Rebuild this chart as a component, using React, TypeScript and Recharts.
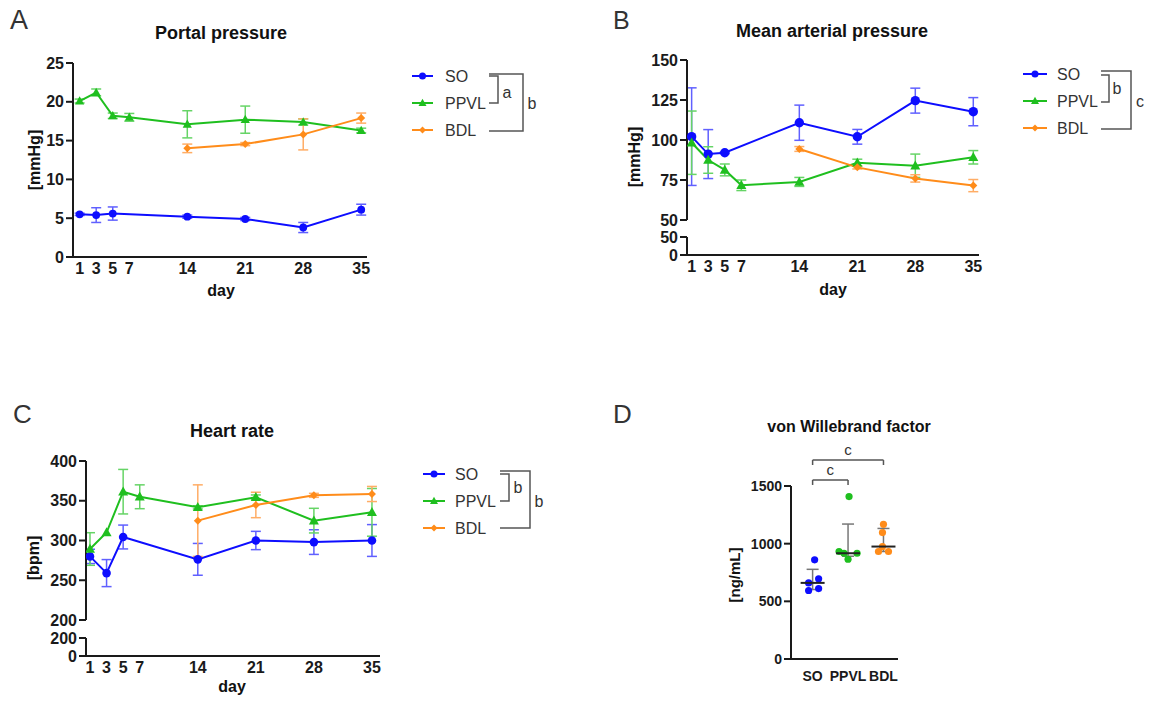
import React from 'react';
import { ComposedChart, Line, XAxis, YAxis, ErrorBar, Legend, Scatter, ReferenceLine } from 'recharts';

const FONT = '"Liberation Sans", Arial, Helvetica, sans-serif';
const AXIS = '#1a1a1a';
const TEXT = '#333333';
const BLUE = '#0d0dff';
const GREEN = '#1fbf1f';
const ORANGE = '#ff8c1a';
const BLUE_ERR = '#6060ff';
const GREEN_ERR = '#66d466';
const ORANGE_ERR = '#ffad66';

// ---------- shared ----------
const days = [1, 3, 5, 7, 14, 21, 28, 35];
const groups = ['SO', 'PPVL', 'BDL'];

// ---------- A: Portal pressure [mmHg] ----------
const portalSO = [5.5, 5.4, 5.6, null, 5.2, 4.9, 3.8, 6.1];
const portalSOErr = [0.15, 0.95, 0.85, null, 0.2, 0.2, 0.65, 0.7];
const portalPPVL = [20.1, 21.2, 18.2, 18.0, 17.1, 17.7, 17.4, 16.3];
const portalPPVLErr = [0.25, 0.45, 0.35, 0.5, 1.75, 1.75, 0.4, 0.3];
const portalBDL = [null, null, null, null, 14.0, 14.55, 15.8, 17.9];
const portalBDLErr = [null, null, null, null, 0.55, 0.2, 2.0, 0.65];
const portalTicks = [0, 5, 10, 15, 20, 25];

// ---------- B: Mean arterial pressure [mmHg] ----------
const mapSO = [102.1, 91.2, 92.0, null, 110.8, 102.0, 124.6, 117.7];
const mapSOErr = [30.5, 15.3, 0.5, null, 11.0, 4.6, 7.8, 8.8];
const mapPPVL = [98.3, 87.5, 81.3, 71.7, 73.8, 85.8, 83.9, 89.2];
const mapPPVLErr = [19.8, 8.3, 3.7, 3.3, 2.8, 2.2, 7.3, 4.2];
const mapBDL = [null, null, null, null, 94.4, 82.9, 76.0, 71.5];
const mapBDLErr = [null, null, null, null, 1.5, 1.0, 2.3, 3.8];
const mapTicksUpper = [50, 75, 100, 125, 150];
const mapTicksLower = [0, 50];

// ---------- C: Heart rate [bpm] ----------
const hrSO = [280, 259, 304.4, null, 276.3, 300, 298, 300];
const hrSOErr = [9, 17, 15, null, 20, 11.5, 15.5, 20];
const hrPPVL = [289.3, 310, 361.4, 355, 341.7, 354.3, 325, 335.4];
const hrPPVLErr = [20.5, 0, 28, 15, 2, 3, 15.5, 30];
const hrBDL = [null, null, null, null, 325, 344.7, 356.8, 358.5];
const hrBDLErr = [null, null, null, null, 45, 16, 2.5, 9.5];
const hrTicksUpper = [200, 250, 300, 350, 400];
const hrTicksLower = [0, 200];

// ---------- D: von Willebrand factor [ng/mL] ----------
const vwfSO = [860, 695, 660, 594, 611];
const vwfPPVL = [1408, 932, 917, 917, 865];
const vwfBDL = [1168, 1096, 932, 932, 975];
const vwfTicks = [0, 500, 1000, 1500];

// ---------- styles ----------
const seriesDefs = [
  { key: 'so', name: 'SO', color: BLUE, err: BLUE_ERR, shape: 'circle' },
  { key: 'ppvl', name: 'PPVL', color: GREEN, err: GREEN_ERR, shape: 'triangle' },
  { key: 'bdl', name: 'BDL', color: ORANGE, err: ORANGE_ERR, shape: 'diamond' },
];
const vwfColors = [BLUE, GREEN, ORANGE];
const vwfJitter = [
  [2, 6, -4, -4, 6],
  [1, -9, -4, 9, 0],
  [0, -1, -5, 5, -1],
];

const axisLine = { stroke: AXIS, strokeWidth: 2 };
const tickLine = { stroke: AXIS, strokeWidth: 2 };
const tickStyle = (size: number) => ({ fontSize: size, fontWeight: 700, fill: AXIS, fontFamily: FONT });

function buildRows(so: any[], soE: any[], pp: any[], ppE: any[], bd: any[], bdE: any[]) {
  return days.map((day, i) => ({
    day,
    so: so[i], soErr: soE[i],
    ppvl: pp[i], ppvlErr: ppE[i],
    bdl: bd[i], bdlErr: bdE[i],
  }));
}

const portalRows = buildRows(portalSO, portalSOErr, portalPPVL, portalPPVLErr, portalBDL, portalBDLErr);
const mapRows = buildRows(mapSO, mapSOErr, mapPPVL, mapPPVLErr, mapBDL, mapBDLErr);
const hrRows = buildRows(hrSO, hrSOErr, hrPPVL, hrPPVLErr, hrBDL, hrBDLErr);

function Marker({ shape, cx, cy, s, color }: any) {
  if (shape === 'circle') return <circle cx={cx} cy={cy} r={s} fill={color} />;
  if (shape === 'triangle')
    return <path d={`M${cx},${cy - s * 1.05} L${cx + s},${cy + s * 0.75} L${cx - s},${cy + s * 0.75} Z`} fill={color} />;
  return <path d={`M${cx},${cy - s} L${cx + s},${cy} L${cx},${cy + s} L${cx - s},${cy} Z`} fill={color} />;
}

const dotFn = (shape: string, color: string, s: number) => (props: any) => {
  const { cx, cy, index } = props;
  if (cx == null || cy == null || Number.isNaN(cy)) return <g key={`m-${index}`} />;
  return <Marker key={`m-${index}`} shape={shape} cx={cx} cy={cy} s={s} color={color} />;
};

function BracketLegend({ cfg }: any) {
  const { ox, oy, w, h, lineX, textX, rows, inner, outer, sizes } = cfg;
  return (
    <svg width={w} height={h} style={{ display: 'block', overflow: 'visible' }}>
      {seriesDefs.map((s, i) => (
        <g key={s.key}>
          <line x1={lineX[0] - ox} x2={lineX[1] - ox} y1={rows[i] - oy} y2={rows[i] - oy} stroke={s.color} strokeWidth={2} />
          <Marker shape={s.shape} cx={(lineX[0] + lineX[1]) / 2 - ox} cy={rows[i] - oy} s={sizes[i]} color={s.color} />
          <text x={textX - ox} y={rows[i] - oy} dominantBaseline="central" fontFamily={FONT} fontSize={16} fill={TEXT}>{s.name}</text>
        </g>
      ))}
      {[inner, outer].map((b: any, i: number) => (
        <g key={i}>
          <polyline
            points={`${b.x1 - ox},${b.y1 - oy} ${b.x2 - ox},${b.y1 - oy} ${b.x2 - ox},${b.y2 - oy} ${b.x1 - ox},${b.y2 - oy}`}
            fill="none" stroke="#555" strokeWidth={1.5}
          />
          <text x={b.lx - ox} y={b.ly - oy} textAnchor="middle" dominantBaseline="central" fontFamily={FONT} fontSize={16} fill={TEXT}>{b.label}</text>
        </g>
      ))}
    </svg>
  );
}

function TimeChart({ left, top, w, h, margin, rows, xDomain, yDomain, yTicks, showX, series, sizes, legend, yFont, xFont }: any) {
  return (
    <div style={{ position: 'absolute', left, top }}>
      <ComposedChart width={w} height={h} data={rows} margin={margin}>
        <XAxis
          type="number" dataKey="day" domain={xDomain} ticks={days} allowDataOverflow interval={0}
          hide={!showX} height={30} tickLine={false} tickSize={4} tickMargin={2}
          axisLine={axisLine} tick={tickStyle(xFont || 15)}
        />
        <YAxis
          type="number" domain={yDomain} ticks={yTicks} allowDataOverflow interval={0} width={45}
          tickSize={7} tickMargin={2} axisLine={axisLine} tickLine={tickLine} tick={tickStyle(yFont || 15)}
        />
        {series && seriesDefs.map((s, i) => (
          <Line
            key={s.key} dataKey={s.key} name={s.name} stroke={s.color} strokeWidth={2}
            connectNulls isAnimationActive={false} activeDot={false}
            dot={dotFn(s.shape, s.color, sizes[i])}
          >
            <ErrorBar dataKey={`${s.key}Err`} direction="y" width={5} stroke={s.err} strokeWidth={1.5} />
          </Line>
        ))}
        {legend && (
          <Legend
            layout="vertical" align="center" verticalAlign="middle"
            wrapperStyle={{ position: 'absolute', left: legend.ox - left, top: legend.oy - top, width: legend.w, height: legend.h }}
            content={() => <BracketLegend cfg={legend} />}
          />
        )}
      </ComposedChart>
    </div>
  );
}

function quartiles(v: number[]) {
  const s = [...v].sort((a, b) => a - b);
  const n = s.length;
  const q = (p: number) => {
    const pos = (n + 1) * p;
    const lo = Math.floor(pos);
    const f = pos - lo;
    if (lo < 1) return s[0];
    if (lo >= n) return s[n - 1];
    return s[lo - 1] + f * (s[lo] - s[lo - 1]);
  };
  return [q(0.25), q(0.5), q(0.75)];
}

const vwfData = [vwfSO, vwfPPVL, vwfBDL];
const vwfPoints = vwfData.map((vals, g) => vals.map((y) => ({ x: g, y })));
const vwfSummary = vwfData.map((vals, g) => {
  const [q1, m, q3] = quartiles(vals);
  return { x: g, y: m, err: [m - q1, q3 - m] };
});

const pointShape = (g: number) => (props: any) => {
  const { cx, cy, index } = props;
  return <circle cx={cx + vwfJitter[g][index]} cy={cy} r={3.6} fill={vwfColors[g]} />;
};
const medianShape = (props: any) => {
  const { cx, cy } = props;
  return <line x1={cx - 12} x2={cx + 12} y1={cy} y2={cy} stroke="#222" strokeWidth={2} />;
};

const SIG_OUTER = 1725;
const SIG_INNER = 1552;
const SIG_DROP = 43;

function VwfChart() {
  const br = { stroke: '#555', strokeWidth: 1.5 };
  return (
    <div style={{ position: 'absolute', left: 720, top: 400 }}>
      <ComposedChart width={220} height={300} margin={{ top: 86, right: 42, bottom: 11, left: 21 }}>
        <XAxis
          type="number" dataKey="x" domain={[-0.61, 2.41]} ticks={[0, 1, 2]} allowDataOverflow interval={0}
          tickFormatter={(v: number) => groups[v]} height={30} tickLine={false} tickSize={4} tickMargin={8}
          axisLine={axisLine} tick={tickStyle(14)}
        />
        <YAxis
          type="number" dataKey="y" domain={[0, 1500]} ticks={vwfTicks} allowDataOverflow interval={0} width={50}
          tickSize={7} tickMargin={2} axisLine={axisLine} tickLine={tickLine} tick={tickStyle(14)}
        />
        {vwfPoints.map((pts, g) => (
          <Scatter key={groups[g]} name={groups[g]} data={pts} fill={vwfColors[g]} shape={pointShape(g)} isAnimationActive={false} />
        ))}
        <Scatter name="median" data={vwfSummary} shape={medianShape} isAnimationActive={false}>
          <ErrorBar dataKey="err" direction="y" width={6} stroke="#777" strokeWidth={1.5} />
        </Scatter>
        <ReferenceLine segment={[{ x: 0, y: SIG_OUTER }, { x: 2, y: SIG_OUTER }]} ifOverflow="visible" {...br}
          label={{ value: 'c', position: 'top', offset: 5, fontSize: 15, fill: TEXT, fontFamily: FONT }} />
        <ReferenceLine segment={[{ x: 0, y: SIG_OUTER }, { x: 0, y: SIG_OUTER - SIG_DROP }]} ifOverflow="visible" {...br} />
        <ReferenceLine segment={[{ x: 2, y: SIG_OUTER }, { x: 2, y: SIG_OUTER - SIG_DROP }]} ifOverflow="visible" {...br} />
        <ReferenceLine segment={[{ x: 0, y: SIG_INNER }, { x: 1, y: SIG_INNER }]} ifOverflow="visible" {...br}
          label={{ value: 'c', position: 'top', offset: 5, fontSize: 15, fill: TEXT, fontFamily: FONT }} />
        <ReferenceLine segment={[{ x: 0, y: SIG_INNER }, { x: 0, y: SIG_INNER - SIG_DROP }]} ifOverflow="visible" {...br} />
        <ReferenceLine segment={[{ x: 1, y: SIG_INNER }, { x: 1, y: SIG_INNER - SIG_DROP }]} ifOverflow="visible" {...br} />
      </ComposedChart>
    </div>
  );
}

const legendA = {
  ox: 400, oy: 60, w: 150, h: 85, lineX: [412, 433], textX: 445, rows: [76, 103, 130], sizes: [3.5, 4, 3.5],
  inner: { x1: 489, x2: 498, y1: 76, y2: 103, label: 'a', lx: 507, ly: 92 },
  outer: { x1: 489, x2: 523, y1: 74, y2: 131, label: 'b', lx: 532, ly: 103 },
};
const legendB = {
  ox: 1010, oy: 60, w: 139, h: 80, lineX: [1023, 1047], textX: 1057, rows: [74, 101, 128], sizes: [3.5, 4, 3.5],
  inner: { x1: 1101, x2: 1109, y1: 75, y2: 102, label: 'b', lx: 1117, ly: 88 },
  outer: { x1: 1101, x2: 1131, y1: 71, y2: 129, label: 'c', lx: 1140, ly: 101 },
};
const legendC = {
  ox: 410, oy: 460, w: 140, h: 80, lineX: [423, 445], textX: 455, rows: [474, 501, 528], sizes: [3.5, 4, 3.5],
  inner: { x1: 500, x2: 509, y1: 474, y2: 501, label: 'b', lx: 518, ly: 487 },
  outer: { x1: 500, x2: 530, y1: 471, y2: 528, label: 'b', lx: 539, ly: 501 },
};

function Overlay() {
  const t = { fontFamily: FONT, fill: TEXT };
  const bold = { fontFamily: FONT, fill: '#111', fontWeight: 700 };
  return (
    <svg width={1149} height={702} style={{ position: 'absolute', left: 0, top: 0, pointerEvents: 'none' }}>
      <text x={10} y={29} fontSize={27} {...t}>A</text>
      <text x={613} y={29} fontSize={25} {...t}>B</text>
      <text x={13} y={423} fontSize={26} {...t}>C</text>
      <text x={613} y={423} fontSize={26} {...t}>D</text>

      <text x={221} y={39} fontSize={18} textAnchor="middle" {...bold}>Portal pressure</text>
      <text x={832} y={37} fontSize={18} textAnchor="middle" {...bold}>Mean arterial pressure</text>
      <text x={232} y={437} fontSize={18} textAnchor="middle" {...bold}>Heart rate</text>
      <text x={849} y={432} fontSize={16} textAnchor="middle" {...bold}>von Willebrand factor</text>

      <text transform="translate(34,160) rotate(-90)" fontSize={16} textAnchor="middle" dominantBaseline="central" {...bold}>[mmHg]</text>
      <text transform="translate(634,157) rotate(-90)" fontSize={16} textAnchor="middle" dominantBaseline="central" {...bold}>[mmHg]</text>
      <text transform="translate(33,558) rotate(-90)" fontSize={16} textAnchor="middle" dominantBaseline="central" {...bold}>[bpm]</text>
      <text transform="translate(734,575) rotate(-90)" fontSize={15} textAnchor="middle" dominantBaseline="central" {...bold}>[ng/mL]</text>

      <text x={221} y={296} fontSize={16} textAnchor="middle" {...bold}>day</text>
      <text x={833} y={295} fontSize={16} textAnchor="middle" {...bold}>day</text>
      <text x={232} y={692} fontSize={16} textAnchor="middle" {...bold}>day</text>
    </svg>
  );
}

export default function App() {
  return (
    <div style={{ position: 'absolute', left: 0, top: 0, width: 1149, height: 702, background: '#fff', fontFamily: FONT }}>
      <TimeChart
        left={0} top={0} w={560} h={310} margin={{ top: 63, right: 193, bottom: 23, left: 28 }}
        rows={portalRows} xDomain={[0.2, 35.7]} yDomain={[0, 25]} yTicks={portalTicks}
        showX series sizes={[3.9, 4.6, 4]} legend={legendA} yFont={16} xFont={16}
      />
      <TimeChart
        left={570} top={0} w={579} h={228} margin={{ top: 60, right: 170, bottom: 8, left: 72 }}
        rows={mapRows} xDomain={[0.44, 35.69]} yDomain={[50, 150]} yTicks={mapTicksUpper}
        showX={false} series sizes={[4.7, 5, 4]} legend={legendB} yFont={16} xFont={16}
      />
      <TimeChart
        left={570} top={228} w={420} h={67} margin={{ top: 9, right: 11, bottom: 10, left: 72 }}
        rows={mapRows} xDomain={[0.44, 35.69]} yDomain={[0, 50]} yTicks={mapTicksLower}
        showX series={false} yFont={16} xFont={16}
      />
      <TimeChart
        left={0} top={400} w={560} h={228} margin={{ top: 61, right: 180, bottom: 8, left: 41 }}
        rows={hrRows} xDomain={[0.52, 35.97]} yDomain={[200, 400]} yTicks={hrTicksUpper}
        showX={false} series sizes={[4.3, 5, 4]} legend={legendC} yFont={16} xFont={16}
      />
      <TimeChart
        left={0} top={628} w={400} h={74} margin={{ top: 10, right: 20, bottom: 16, left: 41 }}
        rows={hrRows} xDomain={[0.52, 35.97]} yDomain={[0, 200]} yTicks={hrTicksLower}
        showX series={false} yFont={16} xFont={16}
      />
      <VwfChart />
      <Overlay />
    </div>
  );
}
